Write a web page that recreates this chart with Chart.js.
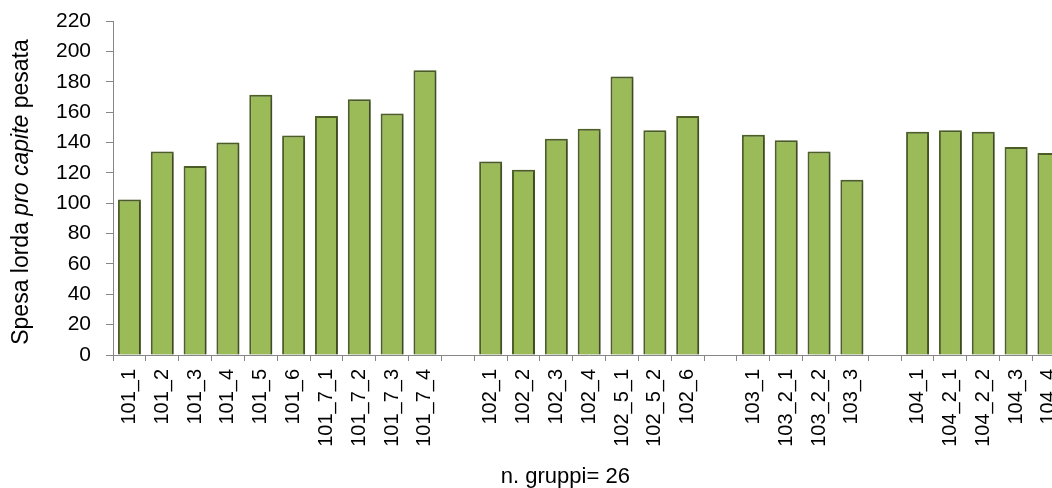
<!DOCTYPE html>
<html>
<head>
<meta charset="utf-8">
<script src="https://cdn.jsdelivr.net/npm/chart.js@4.4.1/dist/chart.umd.min.js"></script>
<style>
  html, body { margin: 0; padding: 0; background: #fff; overflow: hidden; }
  #wrap { position: relative; width: 1081px; height: 488px; }
</style>
</head>
<body>
<div id="wrap"><canvas id="c"></canvas></div>
<script>
// Groups, separated by an empty slot
const categories = [
  '101_1', '101_2', '101_3', '101_4', '101_5', '101_6', '101_7_1', '101_7_2', '101_7_3', '101_7_4',
  '',
  '102_1', '102_2', '102_3', '102_4', '102_5_1', '102_5_2', '102_6',
  '',
  '103_1', '103_2_1', '103_2_2', '103_3',
  '',
  '104_1', '104_2_1', '104_2_2', '104_3', '104_4'
];
const spesa = [
  102.5, 134, 124.5, 140, 171.5, 144.5, 157.5, 168.5, 159, 187.5,
  null,
  127.5, 122, 142.5, 149, 183.5, 148, 157.5,
  null,
  145, 141.5, 134, 115.5,
  null,
  147, 148, 147, 137, 133
];
const yMin = 0;
const yMax = 220;
const yStep = 20;
const xTitle = 'n. gruppi= 26';
const yTitleParts = [
  { text: 'Spesa lorda ', italic: false },
  { text: 'pro', italic: true },
  { text: ' ', italic: false },
  { text: 'capite', italic: true },
  { text: ' pesata', italic: false }
];

const FONT = "'Liberation Sans', Arial, Helvetica, sans-serif";
const AXIS_GRAY = '#868686';

// Soft drop shadow behind the bars
const barShadow = {
  id: 'barShadow',
  beforeDatasetsDraw(chart) {
    const ctx = chart.ctx;
    ctx.save();
    ctx.shadowColor = 'rgba(0,0,0,0.3)';
    ctx.shadowBlur = 4;
    ctx.shadowOffsetX = 2;
    ctx.shadowOffsetY = 1;
  },
  afterDatasetsDraw(chart) {
    chart.ctx.restore();
  }
};

// Axis titles (the vertical one mixes upright and italic runs)
const axisTitles = {
  id: 'axisTitles',
  afterDraw(chart) {
    const ctx = chart.ctx;
    const area = chart.chartArea;
    ctx.save();
    ctx.fillStyle = '#000';
    ctx.textBaseline = 'middle';

    // horizontal title
    ctx.font = '22px ' + FONT;
    ctx.textAlign = 'center';
    ctx.fillText(xTitle, area.left + (area.right - area.left) * 0.475, 477);

    // vertical title
    const size = 23;
    const fontOf = p => (p.italic ? 'italic ' : '') + size + 'px ' + FONT;
    let total = 0;
    yTitleParts.forEach(p => { ctx.font = fontOf(p); total += ctx.measureText(p.text).width; });
    ctx.translate(22, (area.top + area.bottom) / 2 + 4);
    ctx.rotate(-Math.PI / 2);
    ctx.textAlign = 'left';
    let x = -total / 2;
    yTitleParts.forEach(p => {
      ctx.font = fontOf(p);
      ctx.fillText(p.text, x, 0);
      x += ctx.measureText(p.text).width;
    });
    ctx.restore();
  }
};

new Chart(document.getElementById('c'), {
  type: 'bar',
  data: {
    labels: categories,
    datasets: [{
      data: spesa,
      backgroundColor: '#9BBB59',
      borderColor: '#4F6228',
      borderWidth: 2,
      barPercentage: 0.7,
      categoryPercentage: 1.0
    }]
  },
  options: {
    responsive: true,
    maintainAspectRatio: false,
    animation: false,
    layout: { padding: { top: 21, right: 4, left: 0, bottom: 0 } },
    plugins: {
      legend: { display: false },
      tooltip: { enabled: false }
    },
    scales: {
      x: {
        offset: true,
        grid: {
          offset: true,
          drawOnChartArea: false,
          drawTicks: true,
          tickLength: 6,
          tickColor: AXIS_GRAY,
          tickWidth: 1
        },
        border: { display: true, color: AXIS_GRAY, width: 1 },
        ticks: {
          autoSkip: false,
          minRotation: 90,
          maxRotation: 90,
          padding: 8,
          color: '#000',
          font: { family: FONT, size: 20 }
        },
        afterFit(scale) { scale.height = 133; }
      },
      y: {
        min: yMin,
        max: yMax,
        grid: {
          drawOnChartArea: false,
          drawTicks: true,
          tickLength: 7,
          tickColor: AXIS_GRAY,
          tickWidth: 1
        },
        border: { display: true, color: AXIS_GRAY, width: 1 },
        ticks: {
          stepSize: yStep,
          padding: 15,
          color: '#000',
          font: { family: FONT, size: 21 }
        },
        afterFit(scale) {
          scale.width = 113;
          scale.paddingTop = 0;
          scale.paddingBottom = 0;
        }
      }
    }
  },
  plugins: [barShadow, axisTitles]
});
</script>
</body>
</html>
